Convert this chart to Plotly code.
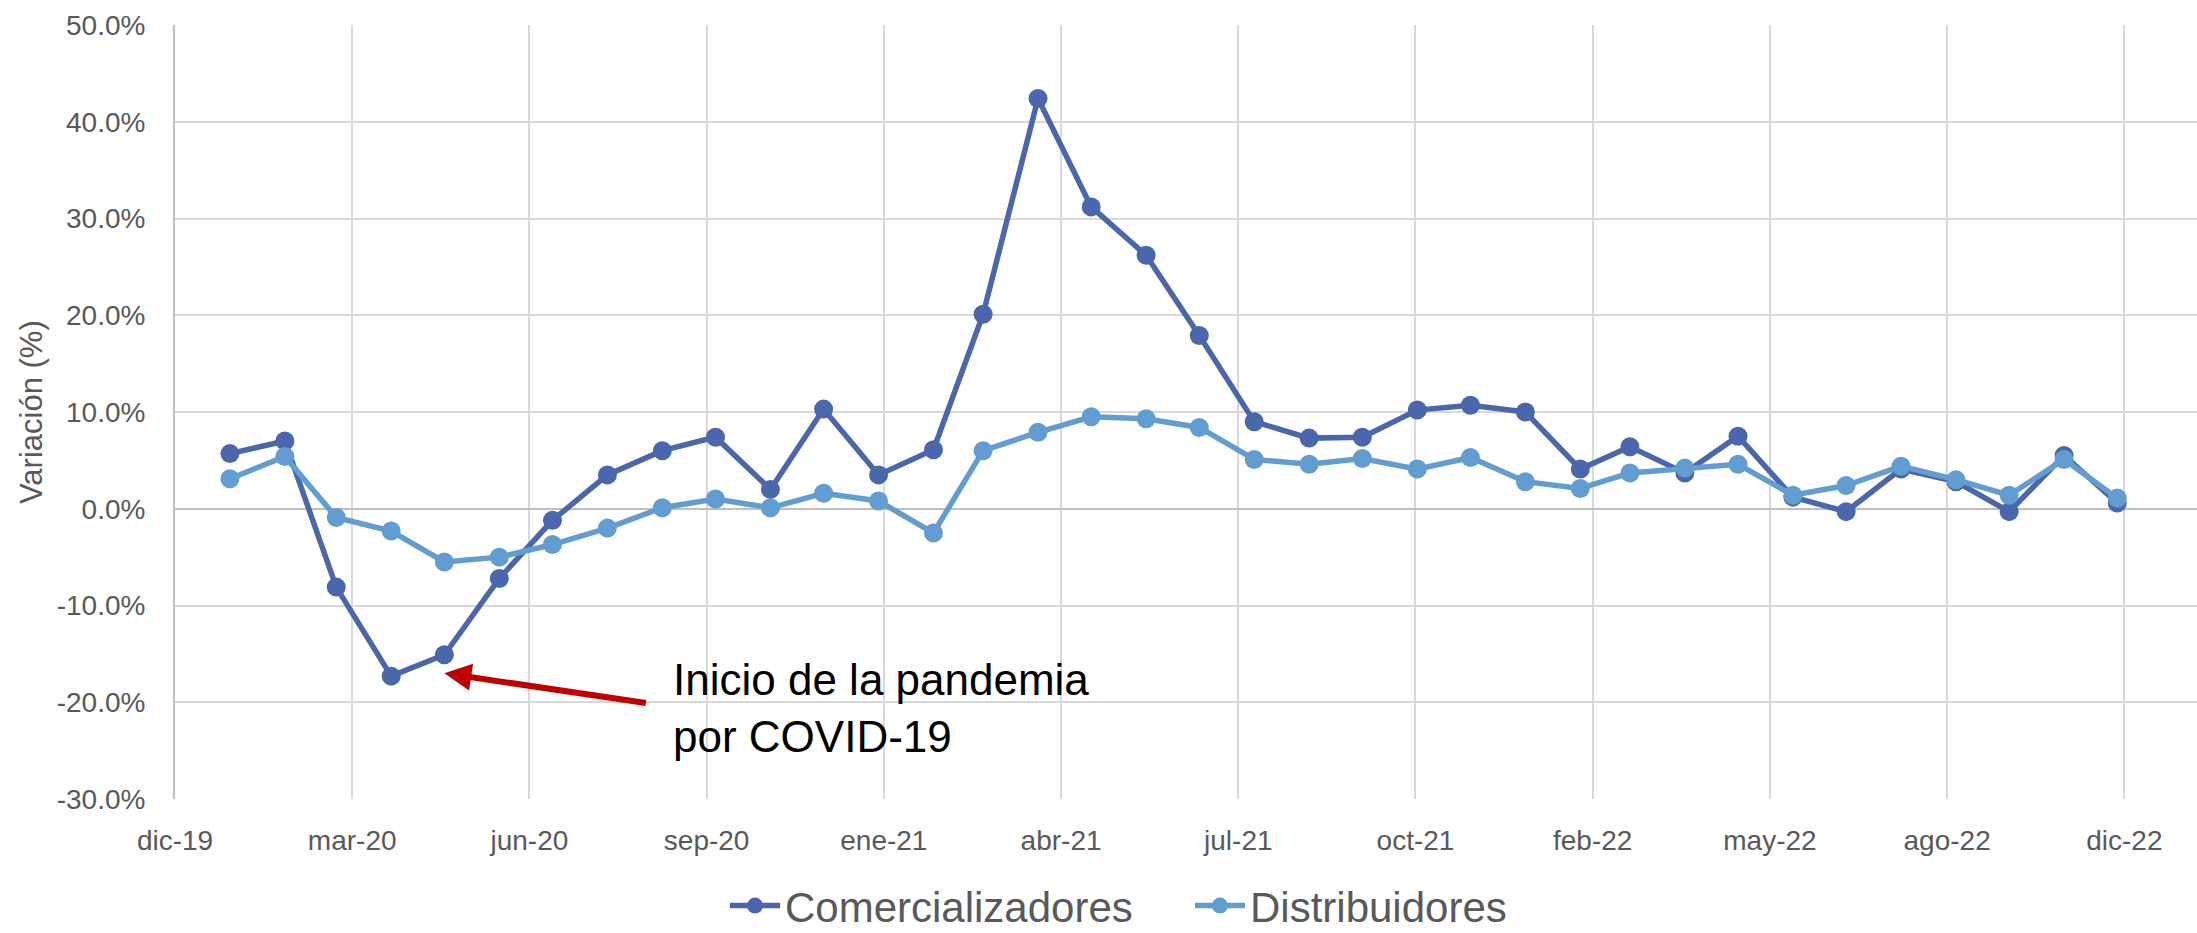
import numpy as np
import pandas as pd
import plotly.graph_objects as go

# Monthly year-on-year variation (%), Jan 2020 - Dec 2022
months = pd.date_range("2020-01-01", periods=36, freq="MS")

comercializadores = [
    5.7, 7.0, -8.1, -17.3, -15.1, -7.2, -1.2, 3.5, 6.0, 7.4, 2.0, 10.3,
    3.5, 6.1, 20.1, 42.4, 31.2, 26.2, 17.9, 9.0, 7.3, 7.4, 10.2, 10.7,
    10.0, 4.1, 6.4, 3.7, 7.5, 1.2, -0.3, 4.1, 2.8, -0.3, 5.5, 0.6,
]
distribuidores = [
    3.1, 5.4, -0.9, -2.3, -5.5, -5.0, -3.7, -2.0, 0.1, 1.0, 0.1, 1.6,
    0.8, -2.5, 6.0, 7.9, 9.5, 9.3, 8.4, 5.1, 4.6, 5.2, 4.1, 5.3,
    2.8, 2.1, 3.7, 4.2, 4.6, 1.4, 2.4, 4.4, 3.0, 1.4, 5.1, 1.1,
]

# Date axis with a 100-day major unit starting on 1 Dec 2019
axis_start = pd.Timestamp("2019-12-01")
tick_step_days = 100
tick_labels = ["dic-19", "mar-20", "jun-20", "sep-20", "ene-21", "abr-21",
               "jul-21", "oct-21", "feb-22", "may-22", "ago-22", "dic-22"]
tick_dates = [axis_start + pd.Timedelta(days=tick_step_days * i) for i in range(len(tick_labels))]
axis_end = axis_start + pd.Timedelta(days=1141)

y_ticks = list(range(-30, 51, 10))

COLOR_COM = "#4A66AC"
COLOR_DIS = "#629DD1"
TEXT_GRAY = "#595959"
FONT = "Liberation Sans, Arial, sans-serif"

fig = go.Figure()
fig.add_trace(go.Scatter(
    x=months, y=comercializadores, name="Comercializadores",
    mode="lines+markers",
    line=dict(color=COLOR_COM, width=5.5),
    marker=dict(color=COLOR_COM, size=19),
))
fig.add_trace(go.Scatter(
    x=months, y=distribuidores, name="Distribuidores",
    mode="lines+markers",
    line=dict(color=COLOR_DIS, width=5.5),
    marker=dict(color=COLOR_DIS, size=19),
))

# Arrow pointing at the start of the pandemic
fig.add_annotation(
    x=months[4], y=comercializadores[4] - 1.9,
    ax=203, ay=30, axref="pixel", ayref="pixel",
    text="", showarrow=True,
    arrowhead=2, arrowsize=0.9, arrowwidth=6, arrowcolor="#C00000",
)
fig.add_annotation(
    xref="paper", yref="paper", x=0.2453, y=0.118,
    xanchor="left", yanchor="middle", align="left",
    text="Inicio de la pandemia<br>por COVID-19", showarrow=False,
    font=dict(family=FONT, size=44, color="#000000"),
)
# Y-axis title
fig.add_annotation(
    xref="paper", yref="paper", x=-0.0712, y=0.5,
    xanchor="center", yanchor="middle", textangle=-90,
    text="Variación (%)", showarrow=False,
    font=dict(family=FONT, size=31, color=TEXT_GRAY),
)

fig.update_layout(
    width=2197, height=933,
    margin=dict(l=175, r=0, t=25, b=134, pad=0, autoexpand=False),
    paper_bgcolor="white", plot_bgcolor="white",
    font=dict(family=FONT, color=TEXT_GRAY),
    showlegend=True,
    legend=dict(
        orientation="h", x=0.272, y=-0.138, xanchor="left", yanchor="middle",
        font=dict(family=FONT, size=42, color=TEXT_GRAY),
        itemwidth=50, tracegroupgap=0,
        entrywidth=400, entrywidthmode="pixels",
    ),
    xaxis=dict(
        type="date", range=[axis_start, axis_end],
        tickmode="array", tickvals=tick_dates, ticktext=tick_labels,
        showgrid=True, gridcolor="#D9D9D9", gridwidth=1.5,
        ticks="", ticklabelstandoff=22,
        tickfont=dict(family=FONT, size=28, color=TEXT_GRAY),
        showline=False, zeroline=False,
    ),
    yaxis=dict(
        range=[-30, 50], tickmode="array", tickvals=y_ticks,
        ticktext=[f"{v:.1f}%" for v in y_ticks],
        showgrid=True, gridcolor="#D9D9D9", gridwidth=1.5,
        zeroline=True, zerolinecolor="#BFBFBF", zerolinewidth=2,
        showline=True, linecolor="#BFBFBF", linewidth=2,
        ticks="", ticklabelstandoff=22,
        tickfont=dict(family=FONT, size=28, color=TEXT_GRAY),
    ),
)

fig.write_html("out.html")
